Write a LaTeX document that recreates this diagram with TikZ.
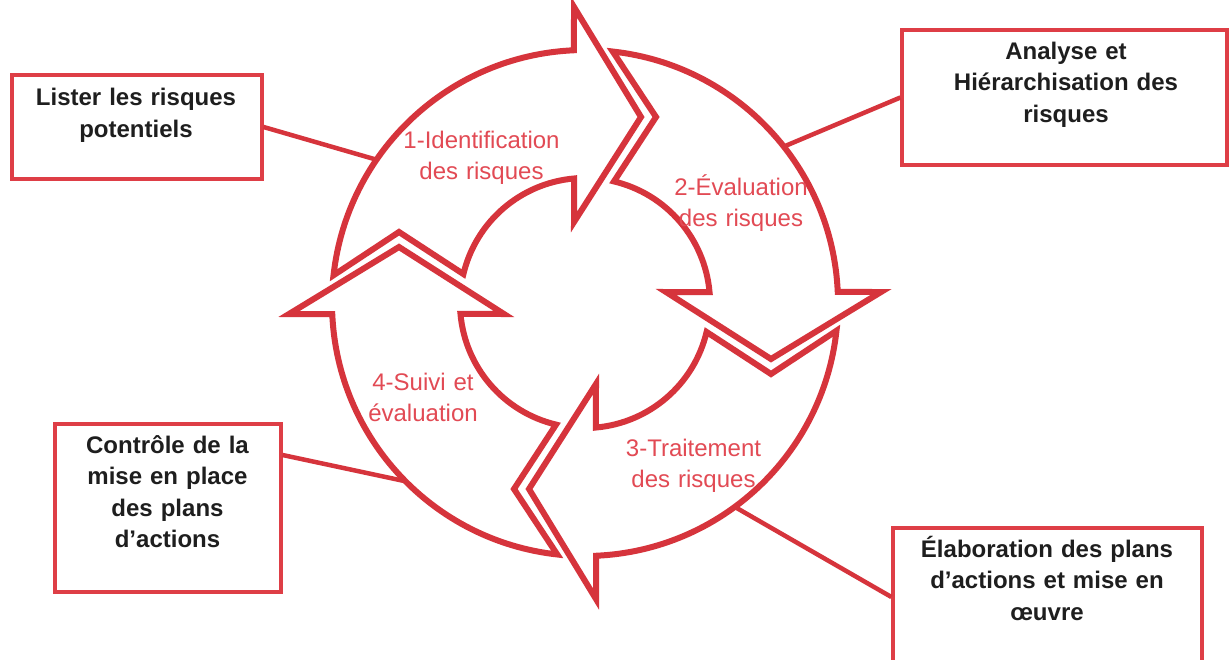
\documentclass[tikz,border=0pt]{standalone}
\usepackage{fontspec}
\setmainfont{Liberation Sans}
\definecolor{ringred}{RGB}{214,52,60}
\definecolor{boxred}{RGB}{222,62,70}
\definecolor{labred}{RGB}{226,74,84}
\definecolor{boxtxt}{RGB}{30,30,30}
\newcommand{\riskarrow}[1]{%
  \draw[ring, shift={(585,-303)}, rotate=#1]
    (173.7:253) arc[start angle=173.7, end angle=92.5, radius=253]
    -- (-11,296) -- (56,186) -- (-11,81) -- (95:125)
    arc[start angle=95, end angle=166.6, radius=125]
    -- (-186,71) -- cycle;}
\begin{document}
\begin{tikzpicture}[x=1pt,y=1pt,
  ring/.style={draw=ringred, fill=white, line width=6pt, line join=miter, miter limit=10},
  box/.style={draw=boxred, line width=3.2pt, fill=white, inner sep=0pt},
  conn/.style={draw=ringred, line width=4.5pt},
  lab/.style={text=labred, font=\fontsize{24}{31}\selectfont, align=center, text width=200pt, anchor=base, inner sep=0pt},
  boxtext/.style={text=boxtxt, font=\bfseries\fontsize{24}{31.5}\selectfont, align=center, text width=320pt, anchor=base, inner sep=0pt}]
\useasboundingbox (0,0) rectangle (1230,-659);
\fill[white] (0,0) rectangle (1230,-659);

% boxes
\node[box, minimum width=250, minimum height=104] (lister) at (137,-127) {};
\node[box, minimum width=325, minimum height=135] (analyse) at (1064.5,-97.5) {};
\node[box, minimum width=226, minimum height=168] (controle) at (168,-508) {};
\node[box, minimum width=309, minimum height=162] (elab) at (1047.5,-609) {};

% box texts
\node[boxtext, font=\bfseries\fontsize{24}{32}\selectfont] (listerT) at (136,-105) {Lister les risques\\potentiels};
\node[boxtext] (analyseT) at (1066,-59) {Analyse et\\Hiérarchisation des\\risques};
\node[boxtext] (controleT) at (167.5,-453) {Contrôle de la\\mise en place\\des plans\\d’actions};
\node[boxtext] (elabT) at (1047,-557) {Élaboration des plans\\d’actions et mise en\\œuvre};

% anchor points on the ring
\path (585,-303) ++(145.5:253) coordinate (pL);
\path (585,-303) ++(38.2:253) coordinate (pA);
\path (585,-303) ++(224.8:253) coordinate (pC);
\path (585,-303) ++(306.3:253) coordinate (pE);

% connectors
\draw[conn] (lister.east) -- (pL);
\draw[conn] (analyse.west) -- (pA);
\draw[conn] (controle.east |- 0,-455) -- (pC);
\draw[conn] (elab.west |- 0,-597) -- (pE);

% ring of arrows
\riskarrow{0}
\riskarrow{-90}
\riskarrow{-180}
\riskarrow{-270}

% labels
\node[lab] (l1) at (481.5,-148) {1-Identification\\des risques};
\node[lab] (l2) at (741,-195) {2-Évaluation\\des risques};
\node[lab] (l3) at (693.5,-456.5) {3-Traitement\\des risques};
\node[lab] (l4) at (423,-390.5) {4-Suivi et\\évaluation};
\end{tikzpicture}
\end{document}
